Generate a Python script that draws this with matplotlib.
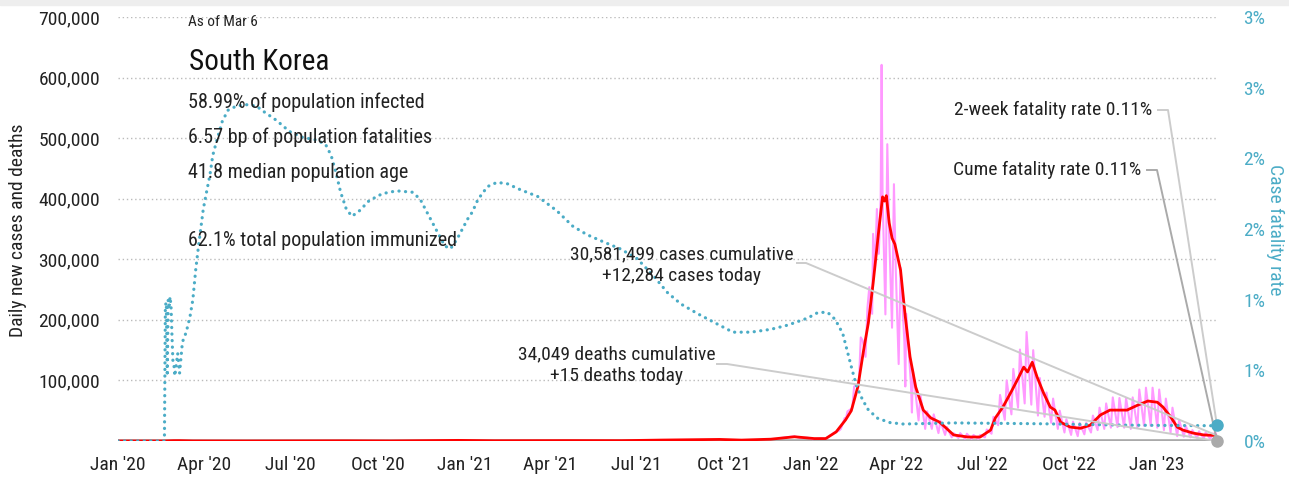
import pandas as pd
import matplotlib
matplotlib.use("Agg")
import matplotlib.pyplot as plt
from matplotlib.lines import Line2D
from matplotlib.patches import Rectangle
from matplotlib.ticker import FixedLocator, FuncFormatter
import matplotlib.dates as mdates
import math

plt.rcParams['font.family'] = ['Liberation Sans Narrow', 'Roboto Condensed', 'DejaVu Sans']

W, H = 1289, 480

# daily new cases, 7-day average
avg_dates = ['2020-01-01', '2020-02-18', '2020-02-29', '2020-03-06', '2020-03-20', '2020-05-15',
             '2020-08-28', '2020-10-15', '2020-12-25', '2021-02-01', '2021-04-20', '2021-06-15',
             '2021-07-28', '2021-09-27', '2021-10-20', '2021-11-20', '2021-12-15', '2022-01-05',
             '2022-01-17', '2022-01-28', '2022-02-07', '2022-02-13', '2022-02-20', '2022-02-26',
             '2022-03-03', '2022-03-08', '2022-03-14', '2022-03-18', '2022-03-20', '2022-03-22',
             '2022-03-25', '2022-03-28', '2022-03-31', '2022-04-06', '2022-04-11', '2022-04-16',
             '2022-04-22', '2022-04-30', '2022-05-08', '2022-05-16', '2022-05-18', '2022-06-01',
             '2022-06-16', '2022-06-29', '2022-07-10', '2022-07-15', '2022-07-23', '2022-07-31',
             '2022-08-07', '2022-08-14', '2022-08-18', '2022-08-23', '2022-08-28', '2022-09-04',
             '2022-09-11', '2022-09-16', '2022-09-22', '2022-10-02', '2022-10-13', '2022-10-23',
             '2022-11-03', '2022-11-13', '2022-12-01', '2022-12-12', '2022-12-23', '2023-01-02',
             '2023-01-08', '2023-01-16', '2023-01-23', '2023-01-29', '2023-02-09', '2023-02-20',
             '2023-03-06']
avg_cases = [0, 0, 550, 580, 100, 20,
             320, 80, 1030, 400, 650, 550,
             1550, 2600, 1500, 3000, 7000, 4000,
             4000, 15000, 35000, 50000, 90000, 150000,
             195000, 260000, 348000, 403000, 396000, 405000,
             360000, 335000, 325000, 282000, 205000, 139000,
             89000, 51000, 38000, 32000, 30000, 10000,
             6600, 6600, 18000, 38000, 56000, 79000,
             100000, 122000, 114000, 130000, 106000, 79000,
             56000, 51000, 31000, 23000, 21000, 26000,
             43000, 51000, 51000, 59000, 66000, 64000,
             56000, 40000, 23000, 18000, 13000, 10000,
             9000]

# daily new cases as reported
daily_dates = ['2021-12-01', '2021-12-15', '2021-12-20', '2021-12-29', '2022-01-03', '2022-01-12',
               '2022-01-17', '2022-01-26', '2022-01-31', '2022-02-02', '2022-02-06', '2022-02-07',
               '2022-02-09', '2022-02-14', '2022-02-16', '2022-02-21', '2022-02-23', '2022-02-25',
               '2022-02-28', '2022-03-02', '2022-03-04', '2022-03-07', '2022-03-08', '2022-03-10',
               '2022-03-12', '2022-03-14', '2022-03-16', '2022-03-17', '2022-03-18', '2022-03-21',
               '2022-03-23', '2022-03-25', '2022-03-28', '2022-03-30', '2022-04-01', '2022-04-04',
               '2022-04-06', '2022-04-10', '2022-04-11', '2022-04-12', '2022-04-17', '2022-04-18',
               '2022-04-19', '2022-04-25', '2022-04-27', '2022-05-02', '2022-05-04', '2022-05-09',
               '2022-05-11', '2022-05-16', '2022-05-18', '2022-05-23', '2022-05-25', '2022-05-30',
               '2022-06-01', '2022-06-06', '2022-06-08', '2022-06-13', '2022-06-15', '2022-06-20',
               '2022-06-22', '2022-06-27', '2022-06-29', '2022-07-04', '2022-07-06', '2022-07-11',
               '2022-07-13', '2022-07-18', '2022-07-20', '2022-07-25', '2022-07-27', '2022-08-01',
               '2022-08-03', '2022-08-08', '2022-08-10', '2022-08-15', '2022-08-17', '2022-08-22',
               '2022-08-24', '2022-08-29', '2022-08-31', '2022-09-05', '2022-09-07', '2022-09-12',
               '2022-09-14', '2022-09-19', '2022-09-21', '2022-09-26', '2022-09-28', '2022-10-03',
               '2022-10-05', '2022-10-10', '2022-10-12', '2022-10-17', '2022-10-19', '2022-10-24',
               '2022-10-26', '2022-10-31', '2022-11-02', '2022-11-07', '2022-11-09', '2022-11-14',
               '2022-11-16', '2022-11-21', '2022-11-23', '2022-11-28', '2022-11-30', '2022-12-05',
               '2022-12-07', '2022-12-12', '2022-12-14', '2022-12-19', '2022-12-21', '2022-12-26',
               '2022-12-28', '2023-01-02', '2023-01-04', '2023-01-09', '2023-01-11', '2023-01-16',
               '2023-01-18', '2023-01-23', '2023-01-25', '2023-01-30', '2023-02-01', '2023-02-06',
               '2023-02-08', '2023-02-13', '2023-02-15', '2023-02-20', '2023-02-22', '2023-02-27',
               '2023-03-01', '2023-03-06']
daily_cases = [5000, 7800, 5300, 5400, 3100, 4500,
               3800, 14000, 17000, 20000, 38000, 35000,
               49000, 54000, 90000, 95000, 171000, 166000,
               139000, 219000, 254000, 210000, 342000, 282000,
               383000, 309000, 400000, 621000, 407000, 209000,
               490000, 339000, 187000, 424000, 280000, 127000,
               286000, 164000, 90000, 210000, 93000, 47000,
               118000, 34000, 76000, 20000, 49000, 20000,
               44000, 13000, 33000, 10000, 23000, 6000,
               13000, 5000, 13000, 3800, 12000, 3600,
               10000, 3400, 10000, 6000, 19000, 12000,
               40000, 26000, 76000, 35000, 100000, 44000,
               119000, 55000, 151000, 62000, 180000, 60000,
               150000, 42000, 104000, 40000, 80000, 30000,
               70000, 20000, 50000, 14000, 36000, 10000,
               32000, 8000, 30000, 11000, 30000, 14000,
               42000, 18000, 55000, 20000, 62000, 22000,
               72000, 23000, 71000, 22000, 71000, 20000,
               72000, 22000, 85000, 25000, 88000, 25000,
               88000, 22000, 85000, 18000, 70000, 14000,
               55000, 8000, 35000, 7000, 25000, 6000,
               18000, 5000, 16000, 4000, 14000, 3000,
               12000, 12284]

# daily deaths, 7-day average
death_dates = ['2020-01-01', '2020-12-25', '2021-12-20', '2022-03-25', '2022-06-20',
               '2022-08-25', '2023-01-05', '2023-03-06']
death_avg = [0, 20, 80, 330, 10, 70, 50, 12]

# cumulative case fatality rate, %
cfr_dates = ['2020-01-01', '2020-02-19', '2020-02-20', '2020-02-21', '2020-02-22', '2020-02-23',
             '2020-02-24', '2020-02-25', '2020-02-26', '2020-02-27', '2020-02-28', '2020-02-29',
             '2020-03-01', '2020-03-04', '2020-03-06', '2020-03-09', '2020-03-13', '2020-03-17',
             '2020-03-20', '2020-03-23', '2020-03-26', '2020-03-31', '2020-04-04', '2020-04-07',
             '2020-04-10', '2020-04-14', '2020-04-20', '2020-04-26', '2020-05-05', '2020-05-15',
             '2020-05-26', '2020-06-03', '2020-06-16', '2020-06-30', '2020-07-13', '2020-07-28',
             '2020-08-07', '2020-08-13', '2020-08-18', '2020-08-23', '2020-08-29', '2020-09-04',
             '2020-09-12', '2020-09-22', '2020-10-06', '2020-10-21', '2020-11-07', '2020-11-15',
             '2020-11-22', '2020-12-03', '2020-12-11', '2020-12-17', '2020-12-24', '2021-01-04',
             '2021-01-09', '2021-01-15', '2021-01-25', '2021-02-04', '2021-02-15', '2021-02-28',
             '2021-03-19', '2021-04-08', '2021-04-25', '2021-05-10', '2021-05-27', '2021-06-14',
             '2021-07-02', '2021-07-19', '2021-08-03', '2021-08-17', '2021-09-04', '2021-09-21',
             '2021-10-11', '2021-10-30', '2021-11-20', '2021-12-08', '2021-12-29', '2022-01-09',
             '2022-01-19', '2022-01-27', '2022-02-04', '2022-02-09', '2022-02-14', '2022-02-19',
             '2022-02-25', '2022-03-03', '2022-03-13', '2022-03-26', '2022-04-09', '2022-06-01',
             '2022-09-01', '2022-12-01', '2023-03-06']
cfr_pct = [0, 0, 0.96, 0.98, 0.46, 1.00,
           0.96, 1.02, 0.95, 0.74, 0.56, 0.54,
           0.46, 0.62, 0.48, 0.70, 0.77, 0.88,
           1.00, 1.21, 1.38, 1.64, 1.78, 1.88,
           2.02, 2.12, 2.26, 2.34, 2.37, 2.38,
           2.37, 2.33, 2.27, 2.19, 2.15, 2.13,
           2.10, 2.02, 1.90, 1.76, 1.64, 1.59,
           1.63, 1.70, 1.75, 1.77, 1.76, 1.71,
           1.62, 1.48, 1.38, 1.36, 1.43, 1.57,
           1.62, 1.71, 1.80, 1.83, 1.82, 1.78,
           1.73, 1.63, 1.52, 1.46, 1.41, 1.36,
           1.29, 1.17, 1.05, 0.97, 0.90, 0.84,
           0.77, 0.77, 0.79, 0.82, 0.87, 0.91,
           0.91, 0.86, 0.76, 0.63, 0.50, 0.38,
           0.29, 0.22, 0.16, 0.13, 0.12, 0.128,
           0.122, 0.112, 0.108]

deaths_today = 15
cfr_2week = 0.11

x_ticks = ['2020-01-01', '2020-04-01', '2020-07-01', '2020-10-01', '2021-01-01', '2021-04-01',
           '2021-07-01', '2021-10-01', '2022-01-01', '2022-04-01', '2022-07-01', '2022-10-01',
           '2023-01-01']
left_ticks = [100000, 200000, 300000, 400000, 500000, 600000, 700000]
right_ticks = [0, 0.5, 1.0, 1.5, 2.0, 2.5, 3.0]

stats = ["58.99% of population infected",
         "6.57 bp of population fatalities",
         "41.8 median population age"]

RED = '#ff0000'
PINK = '#ff99ff'
BLUE = '#4bacc6'
TXT = '#222222'

fig = plt.figure(figsize=(W / 100, H / 100), dpi=100)
fig.patches.append(Rectangle((0, 1 - 5 / H), 1, 5 / H, transform=fig.transFigure,
                             color='#eeeeee', zorder=0))


def fpos(x, y):
    return x / W, 1 - y / H


ax = fig.add_axes([118 / W, 1 - 441 / H, (1217 - 118) / W, (441 - 17) / H])
ax2 = ax.twinx()

start, end = pd.Timestamp('2020-01-01'), pd.Timestamp('2023-03-06')
ax.set_xlim(start, end)
ax.set_ylim(0, 700000)
ax2.set_ylim(0, 3.0)

for a in (ax, ax2):
    for s in a.spines.values():
        s.set_visible(False)

ax.yaxis.set_major_locator(FixedLocator(left_ticks))
ax.yaxis.set_major_formatter(FuncFormatter(lambda v, p: f"{int(v):,}"))
ax.grid(axis='y', color='#bbbbbb', linestyle=(0, (1, 2)), linewidth=1)
ax.set_axisbelow(True)
ax.tick_params(axis='y', length=0, pad=13, labelsize=14, labelcolor=TXT)

ax.xaxis.set_major_locator(FixedLocator(mdates.date2num(pd.to_datetime(x_ticks))))
ax.xaxis.set_major_formatter(mdates.DateFormatter("%b '%y"))
ax.tick_params(axis='x', length=0, pad=11, labelsize=14, labelcolor=TXT)

ax2.yaxis.set_major_locator(FixedLocator(right_ticks))
ax2.yaxis.set_major_formatter(FuncFormatter(lambda v, p: f"{math.floor(v + 0.5)}%"))
ax2.tick_params(axis='y', length=0, pad=19, labelsize=14, labelcolor=BLUE)

# series
ax.plot(pd.to_datetime(death_dates), death_avg, color='#aaaaaa', lw=2.6, zorder=2,
        solid_capstyle='butt')
ax.plot(pd.to_datetime(daily_dates), daily_cases, color=PINK, lw=1.5, zorder=3)
ax.plot(pd.to_datetime(avg_dates), avg_cases, color=RED, lw=2.0, zorder=4)
ax2.plot(pd.to_datetime(cfr_dates), cfr_pct, color=BLUE, lw=2.3,
         linestyle=(0, (0.05, 2.0)), dash_capstyle='round', zorder=3)

# titles and stats
fig.text(*fpos(188, 22), "As of Mar 6", fontsize=11, color=TXT, va='center')
fig.text(*fpos(189, 62), "South Korea", fontsize=21, color='#111111', va='center')
for i, line in enumerate(stats):
    fig.text(*fpos(188, 102 + i * 35), line, fontsize=14.5, color=TXT, va='center')
fig.text(*fpos(188, 241), "62.1% total population immunized", fontsize=14.5, color=TXT,
         va='center')

fig.text(*fpos(682, 265), "30,581,499 cases cumulative\n+12,284 cases today", fontsize=14,
         color=TXT, ha='center', va='center', linespacing=1.25)
fig.text(*fpos(617, 365), "34,049 deaths cumulative\n+15 deaths today", fontsize=14,
         color=TXT, ha='center', va='center', linespacing=1.25)
fig.text(*fpos(1152, 110), "2-week fatality rate 0.11%", fontsize=14, color=TXT,
         ha='right', va='center')
fig.text(*fpos(1141, 170), "Cume fatality rate 0.11%", fontsize=14, color=TXT,
         ha='right', va='center')

fig.text(*fpos(18, 230), "Daily new cases and deaths", fontsize=14, color=TXT,
         rotation=90, ha='center', va='center')
fig.text(*fpos(1275, 230), "Case fatality rate", fontsize=14, color=BLUE,
         rotation=270, ha='center', va='center')

# leader lines from labels to the latest values
end_num = mdates.date2num(end)
p_cases = ax.transData.transform((end_num, avg_cases[-1]))
p_deaths = ax.transData.transform((end_num, deaths_today))
p_cfr2 = ax2.transData.transform((end_num, cfr_2week))
p_cume = ax2.transData.transform((end_num, cfr_pct[-1]))


def leader(x0, y0, x1, end_pt, color):
    xs = [x0, x1, end_pt[0]]
    ys = [H - y0, H - y0, end_pt[1]]
    fig.add_artist(Line2D(xs, ys, transform=None, color=color, lw=1.4, zorder=5))


leader(797, 263, 806, p_cases, '#cccccc')
leader(717, 364, 727, p_deaths, '#cccccc')
leader(1158, 110, 1168, p_cfr2, '#cccccc')
leader(1147, 170, 1157, (p_cume[0], p_deaths[1]), '#aaaaaa')

fig.add_artist(Line2D([p_deaths[0]], [p_deaths[1]], transform=None, marker='o', ms=8,
                      color='#aaaaaa', zorder=6))
fig.add_artist(Line2D([p_cfr2[0]], [p_cfr2[1]], transform=None, marker='o', ms=8,
                      color=BLUE, zorder=6))

fig.savefig("out.png", dpi=100)
